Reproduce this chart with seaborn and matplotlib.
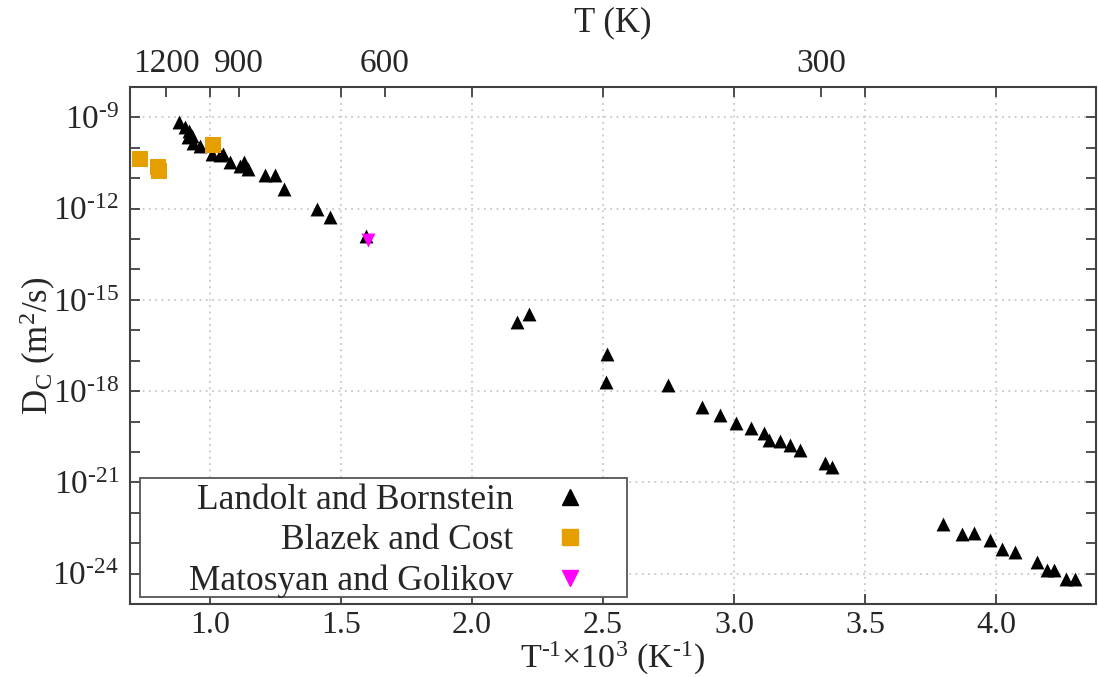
import numpy as np
import pandas as pd
import seaborn as sns
import matplotlib
matplotlib.use('Agg')
import matplotlib.pyplot as plt
from matplotlib.lines import Line2D
from matplotlib.patches import Rectangle

# values: x = 1000/T (1/K), y = log10 of D_C (m^2/s)
landolt_x = [0.883, 0.905, 0.921, 0.930, 0.917, 0.936, 0.962, 1.006, 1.038, 1.051,
             1.076, 1.114, 1.130, 1.146, 1.210, 1.248, 1.281, 1.409, 1.457, 1.595,
             2.172, 2.219, 2.514, 2.510, 2.747, 2.877, 2.947, 3.009, 3.064, 3.115,
             3.134, 3.175, 3.214, 3.253, 3.345, 3.374, 3.798, 3.870, 3.916, 3.976,
             4.022, 4.073, 4.154, 4.194, 4.222, 4.266, 4.302]
landolt_logd = [-9.15, -9.31, -9.46, -9.61, -9.66, -9.83, -9.94, -10.21, -10.25, -10.19,
                -10.45, -10.60, -10.47, -10.69, -10.90, -10.90, -11.37, -12.02, -12.28, -12.91,
                -15.74, -15.48, -16.79, -17.70, -17.81, -18.51, -18.80, -19.06, -19.21, -19.39,
                -19.60, -19.63, -19.76, -19.94, -20.35, -20.51, -22.36, -22.71, -22.66, -22.88,
                -23.18, -23.29, -23.62, -23.87, -23.87, -24.17, -24.17]

blazek_x = [0.733, 0.803, 0.805, 1.010]
blazek_logd = [-10.38, -10.64, -10.76, -9.90]

matosyan_x = [1.603]
matosyan_logd = [-13.02]

labels = ['Landolt and Bornstein', 'Blazek and Cost', 'Matosyan and Golikov']
colors = ['black', '#E69F00', '#FF00FF']
markers = ['^', 's', 'v']

top_temps = [1200, 900, 600, 300]
bottom_ticks = [1.0, 1.5, 2.0, 2.5, 3.0, 3.5, 4.0]
y_label_exps = [-24, -21, -18, -15, -12, -9]

sns.set_style('ticks')
plt.rcParams['font.family'] = ['Liberation Serif', 'DejaVu Sans']
plt.rcParams['mathtext.fontset'] = 'custom'
plt.rcParams['mathtext.rm'] = 'Liberation Serif'
plt.rcParams['mathtext.it'] = 'Liberation Serif:italic'
plt.rcParams['font.size'] = 23

spine_col = '#404040'

fig, ax = plt.subplots(figsize=(10.98, 6.77), dpi=100)
fig.subplots_adjust(left=0.1184, right=0.998, top=0.8715, bottom=0.1078)

df_l = pd.DataFrame({'x': landolt_x, 'D': 10.0 ** np.array(landolt_logd)})
df_b = pd.DataFrame({'x': blazek_x, 'D': 10.0 ** np.array(blazek_logd)})
df_m = pd.DataFrame({'x': matosyan_x, 'D': 10.0 ** np.array(matosyan_logd)})

sns.scatterplot(data=df_l, x='x', y='D', marker=markers[0], color=colors[0],
                s=100, linewidth=0, ax=ax, zorder=3)
sns.scatterplot(data=df_b, x='x', y='D', marker=markers[1], color=colors[1],
                s=125, linewidth=0, ax=ax, zorder=4)
sns.scatterplot(data=df_m, x='x', y='D', marker=markers[2], color=colors[2],
                s=100, linewidth=0, ax=ax, zorder=5)

ax.set_yscale('log')
ax.set_xlim(0.695, 4.38)
ax.set_ylim(1e-25, 1e-8)

ax.set_xticks(bottom_ticks, labels=[f'{t:.1f}' for t in bottom_ticks])
ax.set_yticks([10.0 ** e for e in y_label_exps],
              labels=[f'10$^{{\\text{{{e}}}}}$' for e in y_label_exps])
ax.set_yticks([10.0 ** -k for k in range(8, 26)], minor=True)
ax.yaxis.set_minor_formatter(plt.NullFormatter())
ax.tick_params(which='both', direction='in', length=7, width=1.3,
               color=spine_col, right=True, pad=8)
ax.tick_params(axis='y', labelsize=24)
ax.tick_params(axis='x', pad=5)
ax.tick_params(axis='x', which='minor', bottom=False, top=False)

ax.grid(which='major', linestyle=(0, (1, 2.5)), color='#c8c8c8', linewidth=1.3)
ax.grid(which='minor', visible=False)

for sp in ax.spines.values():
    sp.set_color(spine_col)
    sp.set_linewidth(1.5)

ax.set_xlabel('T$^{\\text{-1}}$×10$^{3}$ (K$^{\\text{-1}}$)', fontsize=24.5, labelpad=0)
ax.set_ylabel('D$_{\\mathrm{C}}$ (m$^{2}$/s)', fontsize=25, labelpad=-4)

# top axis in temperature
ax2 = ax.twiny()
ax2.set_xlim(ax.get_xlim())
ax2.set_xticks([1000.0 / t for t in top_temps], labels=[str(t) for t in top_temps])
ax2.set_xticks(bottom_ticks, minor=True)
ax2.tick_params(which='both', direction='in', length=7, width=1.3,
                color=spine_col, pad=6, labelsize=24)
ax2.set_xlabel('T (K)', fontsize=25, labelpad=12)
for sp in ax2.spines.values():
    sp.set_visible(False)

# legend box like the reference: labels right-aligned, markers on the right
ax.add_patch(Rectangle((0.01035, 0.0135), 0.504, 0.230, transform=ax.transAxes,
                       facecolor='white', edgecolor='#555555', linewidth=1.3, zorder=6))
handles = [Line2D([], [], linestyle='none', marker=m, color=c, markersize=11)
           for m, c in zip(markers, colors)]
leg = ax.legend(handles, labels, loc='lower right', bbox_to_anchor=(0.474, 0.0116),
                borderaxespad=0, markerfirst=False, frameon=False,
                handlelength=1.0, handletextpad=1.1, borderpad=0,
                labelspacing=0.2, fontsize=25.5)
leg.set_zorder(7)

fig.savefig('out.png', dpi=100)
